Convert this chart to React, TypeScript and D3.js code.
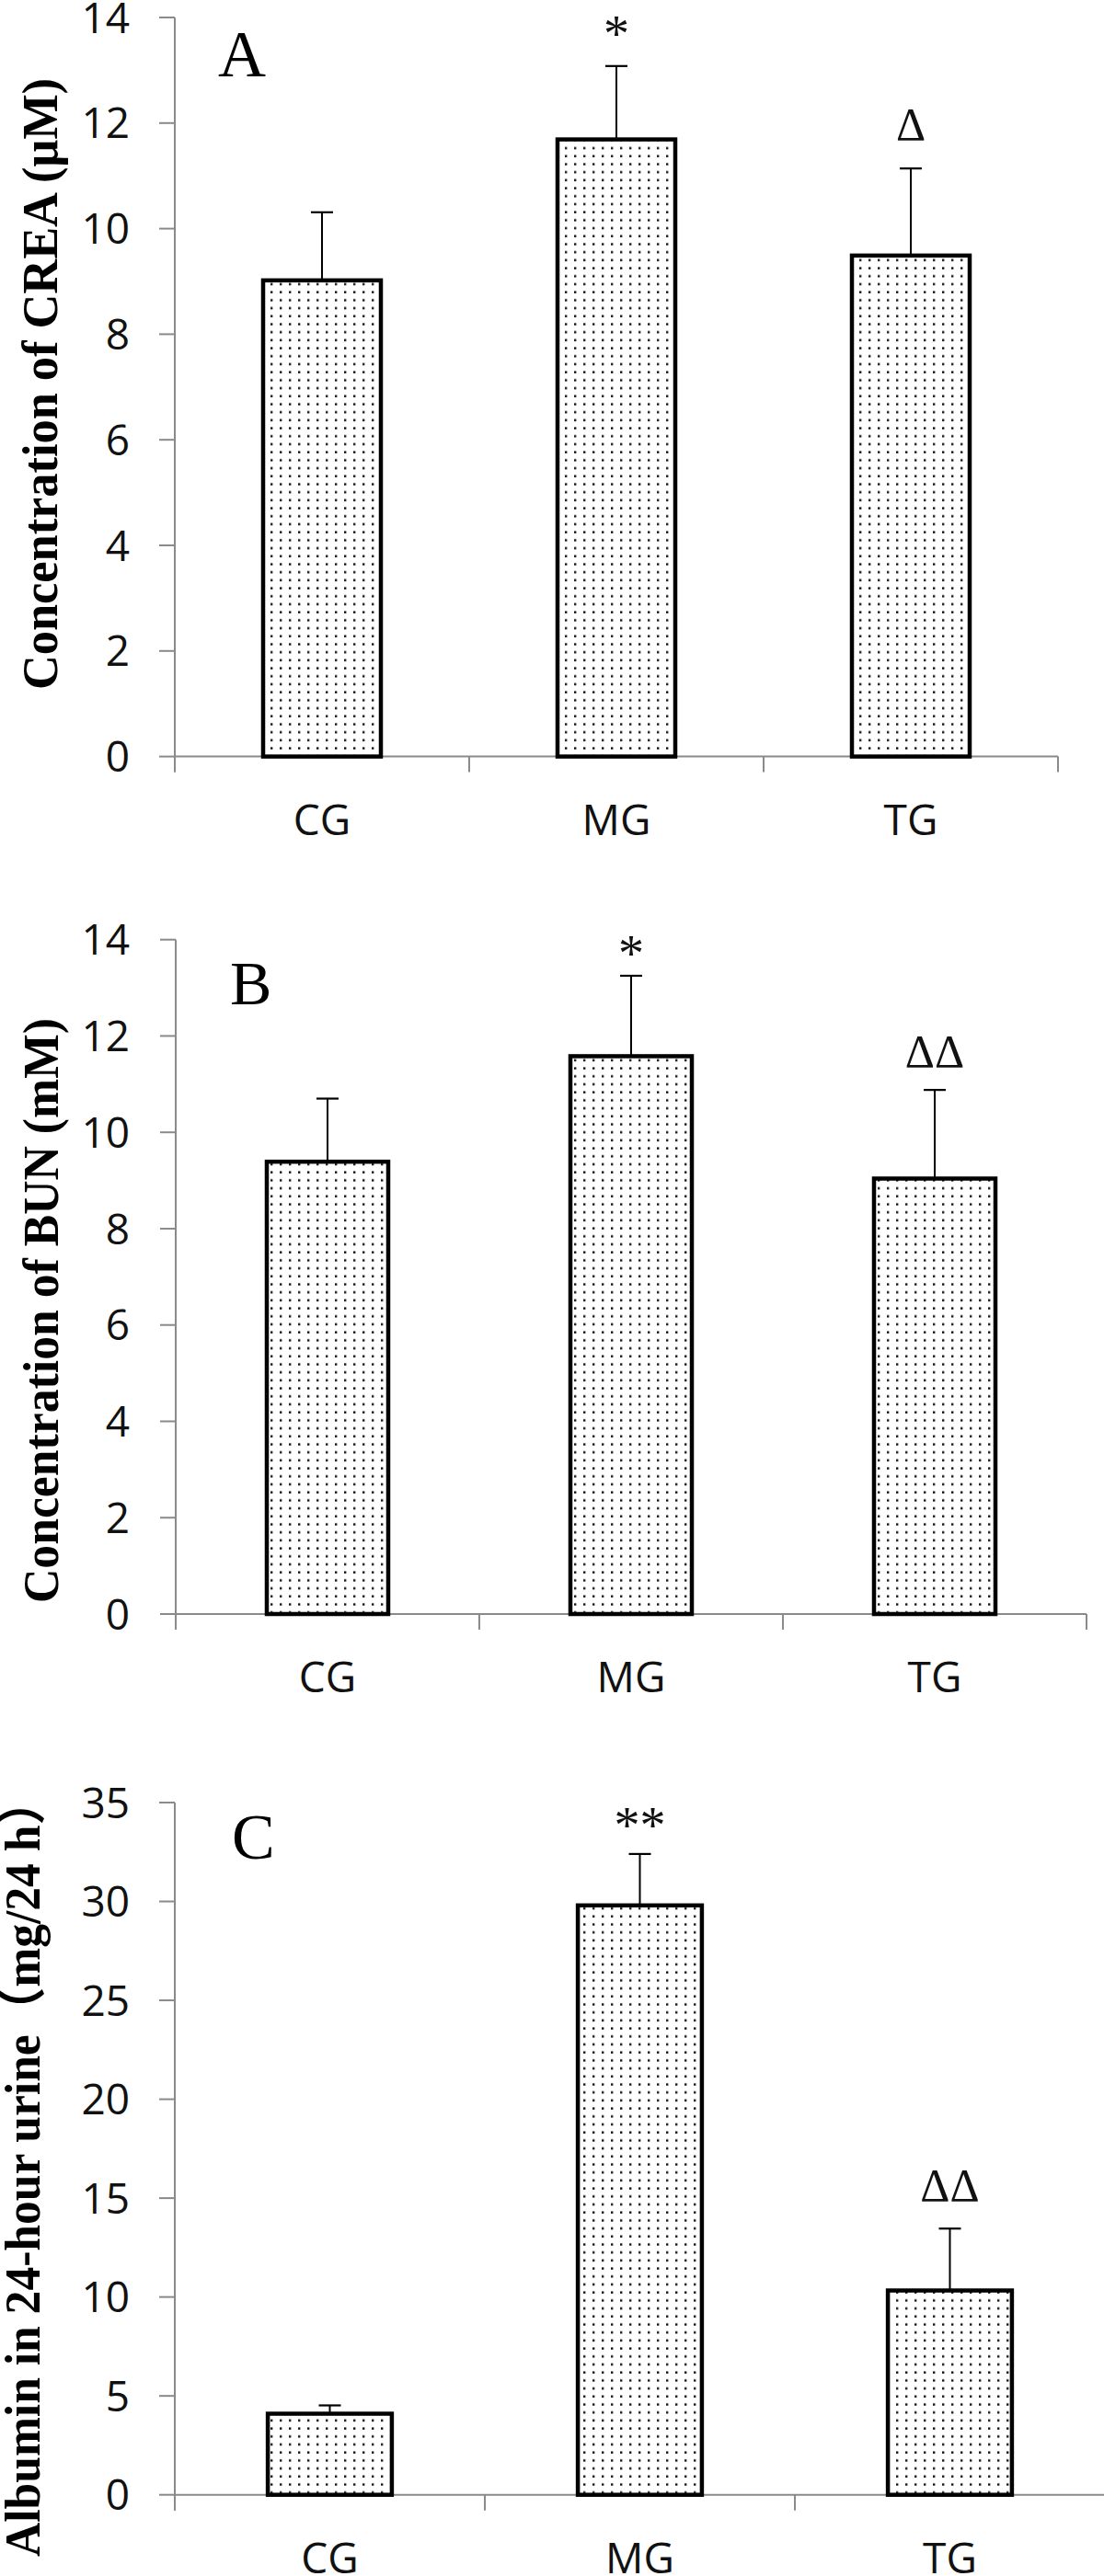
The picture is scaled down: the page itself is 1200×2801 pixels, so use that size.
import React from "react";
import * as d3 from "d3";

// ---------- data ----------
const categories = ["CG", "MG", "TG"];

const creaMean = [9.02, 11.69, 9.49];
const creaErr = [1.29, 1.39, 1.65];
const creaMarks = ["", "*", "Δ"];
const creaTicks = [0, 2, 4, 6, 8, 10, 12, 14];

const bunMean = [9.39, 11.58, 9.04];
const bunErr = [1.31, 1.67, 1.84];
const bunMarks = ["", "*", "ΔΔ"];
const bunTicks = [0, 2, 4, 6, 8, 10, 12, 14];

const albMean = [4.1, 29.8, 10.33];
const albErr = [0.42, 2.6, 3.13];
const albMarks = ["", "**", "ΔΔ"];
const albTicks = [0, 5, 10, 15, 20, 25, 30, 35];

const panels = [
  {
    letter: "A",
    title: "Concentration of CREA (μM)",
    mean: creaMean,
    err: creaErr,
    marks: creaMarks,
    ticks: creaTicks,
    // layout
    x0: 190, x1: 1150, yTop: 19, yZero: 822.6,
    letterX: 237, letterY: 83, letterSize: 72,
    titleX: 62, titleY: 417.5, titleLen: 665,
    starOff: 16, deltaOff: 31,
  },
  {
    letter: "B",
    title: "Concentration of BUN (mM)",
    mean: bunMean,
    err: bunErr,
    marks: bunMarks,
    ticks: bunTicks,
    x0: 191, x1: 1181, yTop: 1021.7, yZero: 1755,
    letterX: 250, letterY: 1092, letterSize: 68,
    titleX: 63, titleY: 1425, titleLen: 636,
    starOff: 5, deltaOff: 25,
  },
  {
    letter: "C",
    title: "Albumin in 24-hour urine（mg/24 h）",
    mean: albMean,
    err: albErr,
    marks: albMarks,
    ticks: albTicks,
    x0: 190, x1: 1201, yTop: 1960, yZero: 2712.7,
    letterX: 252, letterY: 2021, letterSize: 70,
    titleX: 43, titleY: 2356.5, titleLen: 847,
    starOff: 12, deltaOff: 30,
  },
];

const AXIS = "#8a8a8a";
const SANS = "'Open Sans', 'Liberation Sans', Arial, sans-serif";
const SERIF = "'Liberation Serif', 'Times New Roman', 'Noto Sans CJK SC', serif";

function Panel({ p }: { p: (typeof panels)[number] }) {
  const x = d3
    .scaleBand<string>()
    .domain(categories)
    .range([p.x0, p.x1])
    .paddingInner(0.6)
    .paddingOuter(0.3);
  const step = x.step();
  const maxV = p.ticks[p.ticks.length - 1];
  const y = d3.scaleLinear().domain([0, maxV]).range([p.yZero, p.yTop]);
  const below = 17;

  return (
    <g>
      {/* y axis */}
      <line x1={p.x0} x2={p.x0} y1={y(maxV)} y2={p.yZero + below} stroke={AXIS} strokeWidth={2} />
      {p.ticks.map((t) => (
        <g key={t}>
          <line x1={p.x0 - 17} x2={p.x0} y1={y(t)} y2={y(t)} stroke={AXIS} strokeWidth={2} />
          <text
            x={141}
            y={y(t)}
            dy="0.36em"
            textAnchor="end"
            fontFamily={SANS}
            fontSize={46}
            fill="#111"
          >
            {t}
          </text>
        </g>
      ))}
      {/* x axis */}
      <line x1={p.x0} x2={p.x1} y1={p.yZero} y2={p.yZero} stroke={AXIS} strokeWidth={2} />
      {d3.range(categories.length + 1).map((i) => (
        <line
          key={i}
          x1={p.x0 + i * step}
          x2={p.x0 + i * step}
          y1={p.yZero}
          y2={p.yZero + below}
          stroke={AXIS}
          strokeWidth={2}
        />
      ))}
      {/* bars */}
      {categories.map((c, i) => {
        const bx = x(c)!;
        const bw = x.bandwidth();
        const cx = bx + bw / 2;
        const top = y(p.mean[i]);
        const eTop = y(p.mean[i] + p.err[i]);
        const mark = p.marks[i];
        const isStar = mark.includes("*");
        return (
          <g key={c}>
            <line x1={cx} x2={cx} y1={top} y2={eTop} stroke="#000" strokeWidth={2} />
            <line x1={cx - 12} x2={cx + 12} y1={eTop} y2={eTop} stroke="#000" strokeWidth={2.2} />
            <rect
              x={bx}
              y={top}
              width={bw}
              height={p.yZero - top}
              fill="url(#dots)"
              stroke="#000"
              strokeWidth={4.5}
            />
            {mark && (
              <text
                x={cx}
                y={eTop - (isStar ? p.starOff : p.deltaOff)}
                textAnchor="middle"
                fontFamily={SERIF}
                fontSize={isStar ? 56 : 50}
                fill="#111"
              >
                {mark}
              </text>
            )}
            <text
              x={cx}
              y={p.yZero + 85}
              textAnchor="middle"
              fontFamily={SANS}
              fontSize={46}
              fill="#111"
            >
              {c}
            </text>
          </g>
        );
      })}
      {/* panel letter */}
      <text x={p.letterX} y={p.letterY} fontFamily={SERIF} fontSize={p.letterSize} fill="#000">
        {p.letter}
      </text>
      {/* y title */}
      <text
        transform={`translate(${p.titleX},${p.titleY}) rotate(-90)`}
        textAnchor="middle"
        fontFamily={SERIF}
        fontWeight="bold"
        fontSize={54}
        textLength={p.titleLen}
        lengthAdjust="spacingAndGlyphs"
        fill="#000"
      >
        {p.title}
      </text>
    </g>
  );
}

export default function App() {
  return (
    <svg
      width={1200}
      height={2801}
      viewBox="0 0 1200 2801"
      style={{ position: "absolute", left: 0, top: 0, background: "#fff", display: "block" }}
    >
      <defs>
        <pattern id="dots" width={10} height={8.7} patternUnits="userSpaceOnUse">
          <rect width={10} height={8.7} fill="#fff" />
          <rect x={4} y={3.3} width={2.4} height={2.4} fill="#111" />
        </pattern>
      </defs>
      <rect width={1200} height={2801} fill="#fff" />
      {panels.map((p) => (
        <Panel key={p.letter} p={p} />
      ))}
    </svg>
  );
}
